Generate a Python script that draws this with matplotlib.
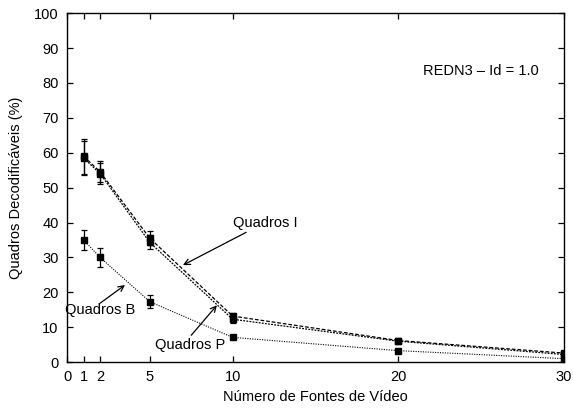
import numpy as np
import matplotlib
matplotlib.use('Agg')
import matplotlib.pyplot as plt

plt.rcParams['font.family'] = ['Liberation Sans', 'DejaVu Sans']

fontes = [1, 2, 5, 10, 20, 30]

quadros_i = [59.0, 54.5, 35.5, 13.2, 6.2, 2.6]
erro_i = [5.0, 3.0, 2.0, 1.0, 0.5, 0.4]

quadros_p = [58.5, 54.0, 34.3, 12.3, 6.0, 2.2]
erro_p = [5.0, 3.0, 2.0, 1.0, 0.5, 0.4]

quadros_b = [35.0, 30.0, 17.3, 7.1, 3.3, 1.0]
erro_b = [3.0, 2.7, 1.8, 0.5, 0.4, 0.3]

xticks = [0, 1, 2, 5, 10, 20, 30]
yticks = list(range(0, 101, 10))

fs = 10.5

fig = plt.figure(figsize=(5.73, 4.12), dpi=100)
ax = fig.add_axes([0.117, 0.121, 0.867, 0.847])

estilo = dict(marker='s', markersize=4.5, color='black', ecolor='black',
              elinewidth=0.9, capsize=2.5, capthick=0.9)

ax.errorbar(fontes, quadros_i, yerr=erro_i, linestyle=(0, (3, 1.5)), linewidth=0.9, **estilo)
ax.errorbar(fontes, quadros_p, yerr=erro_p, linestyle=(0, (1.5, 1)), linewidth=0.9, **estilo)
ax.errorbar(fontes, quadros_b, yerr=erro_b, linestyle=(0, (1, 1.2)), linewidth=0.8, **estilo)

ax.set_xlim(0, 30)
ax.set_ylim(0, 100)
ax.set_xticks(xticks)
ax.set_yticks(yticks)
ax.tick_params(direction='in', top=True, right=True, length=4, width=0.9,
               labelsize=fs, pad=6)
for s in ax.spines.values():
    s.set_linewidth(1.0)

ax.set_xlabel('Número de Fontes de Vídeo', fontsize=fs, labelpad=4)
ax.set_ylabel('Quadros Decodificáveis (%)', fontsize=fs, labelpad=8)

seta = dict(arrowstyle='->', color='black', lw=0.9, shrinkA=0, shrinkB=0)
ax.annotate('Quadros I', xy=(7.0, 27.8), xytext=(10.0, 40.0),
            ha='left', va='center', fontsize=fs, arrowprops=seta)
ax.annotate('Quadros B', xy=(3.5, 22.1), xytext=(-0.1, 15.0),
            ha='left', va='center', fontsize=fs)
ax.annotate('', xy=(3.5, 22.1), xytext=(2.0, 16.9), arrowprops=seta)
ax.annotate('Quadros P', xy=(9.05, 16.3), xytext=(5.3, 4.9),
            ha='left', va='center', fontsize=fs)
ax.annotate('', xy=(9.05, 16.3), xytext=(7.5, 7.7), arrowprops=seta)

ax.text(28.5, 83.5, 'REDN3 – Id = 1.0', ha='right', va='center', fontsize=fs)

fig.savefig('out.png', dpi=100)
